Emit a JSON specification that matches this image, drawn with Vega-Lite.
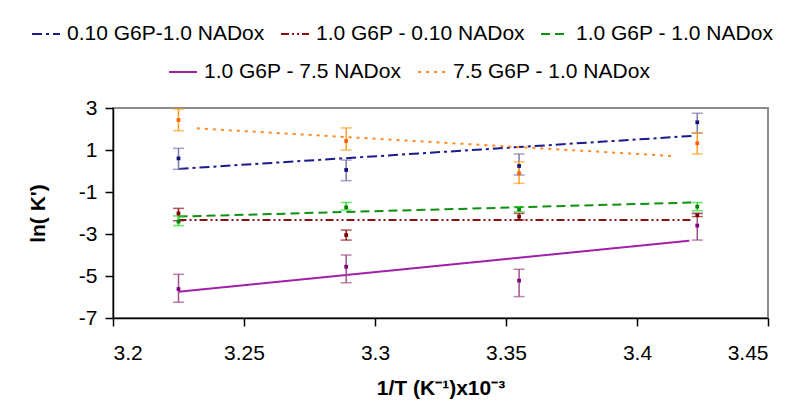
{
  "$schema": "https://vega.github.io/schema/vega-lite/v6.json",
  "width": 655,
  "height": 210,
  "autosize": "none",
  "padding": {"left": 113, "top": 108, "right": 41, "bottom": 98},
  "background": "white",
  "config": {
    "font": "Liberation Sans",
    "view": {"stroke": "#8c8c8c", "strokeWidth": 2},
    "axis": {
      "grid": false,
      "domainColor": "black",
      "domainWidth": 1.5,
      "tickColor": "black",
      "tickWidth": 1.5,
      "tickSize": 8,
      "labelColor": "black",
      "labelFontSize": 21,
      "labelFont": "Liberation Sans",
      "titleFont": "Liberation Sans",
      "titleFontSize": 21,
      "titleFontWeight": "bold",
      "titleColor": "black"
    },
    "legend": {
      "labelFont": "Liberation Sans",
      "labelFontSize": 21,
      "labelColor": "black",
      "labelLimit": 0,
      "symbolType": "stroke",
      "symbolStrokeWidth": 2,
      "symbolSize": 784
    }
  },
  "datasets": {
    "pts": [
      {"series": "0.10 G6P-1.0 NADox", "x": 3.225, "y": 0.6, "lo": 0.08, "hi": 1.08},
      {"series": "0.10 G6P-1.0 NADox", "x": 3.289, "y": 0.05, "lo": -0.46, "hi": 0.52},
      {"series": "0.10 G6P-1.0 NADox", "x": 3.355, "y": 0.24, "lo": -0.19, "hi": 0.81},
      {"series": "0.10 G6P-1.0 NADox", "x": 3.423, "y": 2.32, "lo": 1.8, "hi": 2.75},
      {"series": "1.0 G6P - 0.10 NADox", "x": 3.225, "y": -2.02, "lo": -2.37, "hi": -1.78},
      {"series": "1.0 G6P - 0.10 NADox", "x": 3.289, "y": -3.05, "lo": -3.29, "hi": -2.81},
      {"series": "1.0 G6P - 0.10 NADox", "x": 3.355, "y": -2.17, "lo": -2.33, "hi": -2.02},
      {"series": "1.0 G6P - 0.10 NADox", "x": 3.423, "y": -2.1, "lo": -2.17, "hi": -2.02},
      {"series": "1.0 G6P - 1.0 NADox", "x": 3.225, "y": -2.41, "lo": -2.6, "hi": -2.14},
      {"series": "1.0 G6P - 1.0 NADox", "x": 3.289, "y": -1.73, "lo": -1.86, "hi": -1.5},
      {"series": "1.0 G6P - 1.0 NADox", "x": 3.355, "y": -1.83, "lo": -1.94, "hi": -1.7},
      {"series": "1.0 G6P - 1.0 NADox", "x": 3.423, "y": -1.7, "lo": -1.89, "hi": -1.5},
      {"series": "1.0 G6P - 7.5 NADox", "x": 3.225, "y": -5.62, "lo": -6.25, "hi": -4.92},
      {"series": "1.0 G6P - 7.5 NADox", "x": 3.289, "y": -4.56, "lo": -5.32, "hi": -4.0},
      {"series": "1.0 G6P - 7.5 NADox", "x": 3.355, "y": -5.22, "lo": -5.98, "hi": -4.68},
      {"series": "1.0 G6P - 7.5 NADox", "x": 3.423, "y": -2.6, "lo": -3.29, "hi": -2.02},
      {"series": "7.5 G6P - 1.0 NADox", "x": 3.225, "y": 2.43, "lo": 1.92, "hi": 2.95},
      {"series": "7.5 G6P - 1.0 NADox", "x": 3.289, "y": 1.43, "lo": 1.0, "hi": 2.05},
      {"series": "7.5 G6P - 1.0 NADox", "x": 3.355, "y": -0.11, "lo": -0.59, "hi": 0.44},
      {"series": "7.5 G6P - 1.0 NADox", "x": 3.423, "y": 1.32, "lo": 0.81, "hi": 1.83}
    ],
    "trendA": [
      {"series": "0.10 G6P-1.0 NADox", "x": 3.225, "y": 0.1},
      {"series": "0.10 G6P-1.0 NADox", "x": 3.421, "y": 1.67},
      {"series": "1.0 G6P - 0.10 NADox", "x": 3.225, "y": -2.33},
      {"series": "1.0 G6P - 0.10 NADox", "x": 3.421, "y": -2.33},
      {"series": "1.0 G6P - 1.0 NADox", "x": 3.225, "y": -2.17},
      {"series": "1.0 G6P - 1.0 NADox", "x": 3.421, "y": -1.5}
    ],
    "trendB": [
      {"series": "1.0 G6P - 7.5 NADox", "x": 3.225, "y": -5.75},
      {"series": "1.0 G6P - 7.5 NADox", "x": 3.42, "y": -3.32},
      {"series": "7.5 G6P - 1.0 NADox", "x": 3.232, "y": 2.03},
      {"series": "7.5 G6P - 1.0 NADox", "x": 3.414, "y": 0.71}
    ]
  },
  "encoding": {
    "x": {
      "field": "x", "type": "quantitative",
      "scale": {"domain": [3.2, 3.45], "nice": false, "zero": false},
      "axis": {"values": [3.2, 3.25, 3.3, 3.35, 3.4, 3.45], "format": ".2~f", "labelPadding": 16, "title": "1/T (K⁻¹)x10⁻³", "titlePadding": 14}
    },
    "y": {
      "field": "y", "type": "quantitative",
      "scale": {"domain": [-7, 3], "nice": false, "zero": false},
      "axis": {"values": [-7, -5, -3, -1, 1, 3], "labelExpr": "'' + datum.value", "labelPadding": 8, "title": "ln( K')", "titlePadding": 30}
    }
  },
  "layer": [
    {
      "data": {"name": "trendA"},
      "mark": {"type": "line", "strokeWidth": 2},
      "encoding": {
        "color": {
          "field": "series", "type": "nominal",
          "scale": {"domain": ["0.10 G6P-1.0 NADox", "1.0 G6P - 0.10 NADox", "1.0 G6P - 1.0 NADox"], "range": ["#1a1a8c", "#8b1010", "#109010"]},
          "legend": {"title": null, "orient": "none", "legendX": -82, "legendY": -89, "direction": "horizontal", "columns": 3, "columnPadding": 12, "labelOffset": 6}
        },
        "strokeDash": {
          "field": "series", "type": "nominal",
          "scale": {"domain": ["0.10 G6P-1.0 NADox", "1.0 G6P - 0.10 NADox", "1.0 G6P - 1.0 NADox"], "range": [[10, 4, 3, 4], [8, 3, 2, 3, 2, 3], [9, 5]]},
          "legend": {"title": null, "orient": "none", "legendX": -82, "legendY": -89, "direction": "horizontal", "columns": 3, "columnPadding": 12, "labelOffset": 6}
        }
      }
    },
    {
      "data": {"name": "trendB"},
      "mark": {"type": "line", "strokeWidth": 2},
      "encoding": {
        "color": {
          "field": "series", "type": "nominal",
          "scale": {"domain": ["1.0 G6P - 7.5 NADox", "7.5 G6P - 1.0 NADox"], "range": ["#a020a8", "#ff8a20"]},
          "legend": {"title": null, "orient": "none", "legendX": 55, "legendY": -51, "direction": "horizontal", "columns": 2, "columnPadding": 12, "labelOffset": 6}
        },
        "strokeDash": {
          "field": "series", "type": "nominal",
          "scale": {"domain": ["1.0 G6P - 7.5 NADox", "7.5 G6P - 1.0 NADox"], "range": [[1, 0], [3, 5]]},
          "legend": {"title": null, "orient": "none", "legendX": 55, "legendY": -51, "direction": "horizontal", "columns": 2, "columnPadding": 12, "labelOffset": 6}
        }
      }
    },
    {
      "data": {"name": "pts"},
      "mark": {"type": "rule", "strokeWidth": 1.5},
      "encoding": {
        "y": {"field": "lo", "type": "quantitative"},
        "y2": {"field": "hi"},
        "color": {
          "field": "series", "type": "nominal", "legend": null,
          "scale": {"domain": ["0.10 G6P-1.0 NADox", "1.0 G6P - 0.10 NADox", "1.0 G6P - 1.0 NADox", "1.0 G6P - 7.5 NADox", "7.5 G6P - 1.0 NADox"], "range": ["#7a7aa8", "#8b1a1a", "#22e022", "#a0508a", "#ffa020"]}
        }
      }
    },
    {
      "data": {"name": "pts"},
      "mark": {"type": "tick", "orient": "horizontal", "size": 11, "thickness": 1.5},
      "encoding": {
        "y": {"field": "lo", "type": "quantitative"},
        "color": {
          "field": "series", "type": "nominal", "legend": null,
          "scale": {"domain": ["0.10 G6P-1.0 NADox", "1.0 G6P - 0.10 NADox", "1.0 G6P - 1.0 NADox", "1.0 G6P - 7.5 NADox", "7.5 G6P - 1.0 NADox"], "range": ["#7a7aa8", "#8b1a1a", "#22e022", "#a0508a", "#ffa020"]}
        }
      }
    },
    {
      "data": {"name": "pts"},
      "mark": {"type": "tick", "orient": "horizontal", "size": 11, "thickness": 1.5},
      "encoding": {
        "y": {"field": "hi", "type": "quantitative"},
        "color": {
          "field": "series", "type": "nominal", "legend": null,
          "scale": {"domain": ["0.10 G6P-1.0 NADox", "1.0 G6P - 0.10 NADox", "1.0 G6P - 1.0 NADox", "1.0 G6P - 7.5 NADox", "7.5 G6P - 1.0 NADox"], "range": ["#7a7aa8", "#8b1a1a", "#22e022", "#a0508a", "#ffa020"]}
        }
      }
    },
    {
      "data": {"name": "pts"},
      "mark": {"type": "point", "shape": "square", "filled": true, "size": 14, "opacity": 1},
      "encoding": {
        "color": {
          "field": "series", "type": "nominal", "legend": null,
          "scale": {"domain": ["0.10 G6P-1.0 NADox", "1.0 G6P - 0.10 NADox", "1.0 G6P - 1.0 NADox", "1.0 G6P - 7.5 NADox", "7.5 G6P - 1.0 NADox"], "range": ["#10107a", "#800000", "#008000", "#800080", "#ff6000"]}
        }
      }
    }
  ],
  "resolve": {"scale": {"color": "independent", "strokeDash": "independent"}}
}
